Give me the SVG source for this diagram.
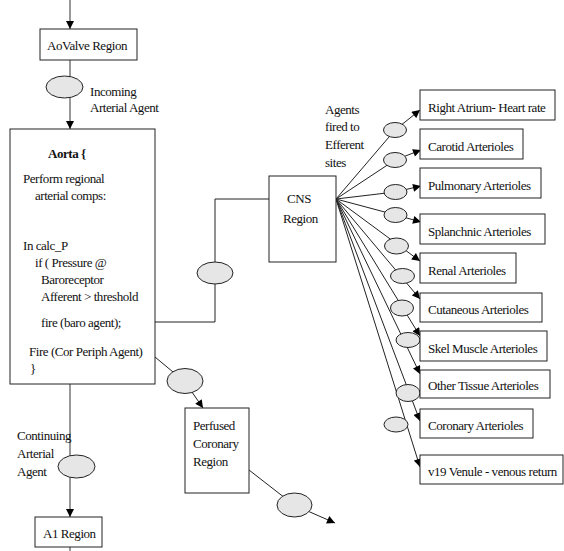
<svg xmlns="http://www.w3.org/2000/svg" width="564" height="551" viewBox="0 0 564 551">
  <style>
    text { font-family: "Liberation Serif", "Times New Roman", serif; font-size: 13px; letter-spacing: -0.45px; fill: #111; }
    .bold { font-weight: bold; }
    .box { fill: #fff; stroke: #222; stroke-width: 1; }
    .agent { fill: #e6e6e6; stroke: #222; stroke-width: 1; }
    .wire { fill: none; stroke: #222; stroke-width: 1; }
    .wire-grey { fill: none; stroke: #555; stroke-width: 1.2; }
  </style>
  <defs>
    <marker id="arrow" viewBox="0 0 10 10" refX="10" refY="5" markerUnits="userSpaceOnUse" markerWidth="9" markerHeight="8" orient="auto">
      <path d="M0,0 L10,5 L0,10 z" fill="#000"/>
    </marker>
  </defs>

  <!-- connectors -->
  <g id="connectors">
    <line class="wire-grey" x1="70" y1="0" x2="70" y2="29" marker-end="url(#arrow)"/>
    <line class="wire-grey" x1="70" y1="60" x2="70" y2="129" marker-end="url(#arrow)"/>
    <line class="wire-grey" x1="70" y1="377" x2="70" y2="517" marker-end="url(#arrow)"/>
    <line class="wire-grey" x1="70" y1="547" x2="70" y2="551"/>
    <polyline class="wire" points="150,322 215,322 215,199 283,199" marker-end="url(#arrow)"/>
    <polyline class="wire" points="149,352 185,382 203,408" marker-end="url(#arrow)"/>
    <polyline class="wire" points="240,463 294,505 335,523" marker-end="url(#arrow)"/>
    <!-- efferent fan from the CNS region -->
    <polyline class="wire" points="336,199 395,130 420,110" marker-end="url(#arrow)"/>
    <polyline class="wire" points="336,199 395,160 421,150" marker-end="url(#arrow)"/>
    <polyline class="wire" points="336,199 395,192 421,186" marker-end="url(#arrow)"/>
    <polyline class="wire" points="336,199 396,215 421,222" marker-end="url(#arrow)"/>
    <line class="wire" x1="336" y1="199" x2="420" y2="261" marker-end="url(#arrow)"/>
    <line class="wire" x1="336" y1="199" x2="420" y2="299" marker-end="url(#arrow)"/>
    <line class="wire" x1="336" y1="199" x2="420" y2="336" marker-end="url(#arrow)"/>
    <line class="wire" x1="336" y1="199" x2="420" y2="374" marker-end="url(#arrow)"/>
    <line class="wire" x1="336" y1="199" x2="420" y2="421" marker-end="url(#arrow)"/>
    <line class="wire" x1="336" y1="199" x2="420" y2="467" marker-end="url(#arrow)"/>
  </g>

  <!-- agent tokens -->
  <g id="agents">
    <ellipse class="agent" cx="64.5" cy="87" rx="18.5" ry="11"/>
    <ellipse class="agent" cx="215" cy="273" rx="18" ry="11"/>
    <ellipse class="agent" cx="185" cy="381" rx="18" ry="12.5"/>
    <ellipse class="agent" cx="76.5" cy="466.5" rx="18.5" ry="11.5"/>
    <ellipse class="agent" cx="294.5" cy="505" rx="17.5" ry="12"/>
    <ellipse class="agent" cx="395" cy="130" rx="11.5" ry="7.5"/>
    <ellipse class="agent" cx="395" cy="160" rx="11.5" ry="7.5"/>
    <ellipse class="agent" cx="395.5" cy="192" rx="11.5" ry="7.5"/>
    <ellipse class="agent" cx="395.5" cy="215" rx="11.5" ry="7.5"/>
    <ellipse class="agent" cx="396.5" cy="246" rx="12" ry="8"/>
    <ellipse class="agent" cx="402.5" cy="276" rx="12" ry="7.5"/>
    <ellipse class="agent" cx="402" cy="308" rx="11.5" ry="8"/>
    <ellipse class="agent" cx="408" cy="340" rx="12" ry="7.5"/>
    <ellipse class="agent" cx="408" cy="393" rx="12" ry="8.5"/>
    <ellipse class="agent" cx="396" cy="424.5" rx="12" ry="7.5"/>
  </g>

  <!-- left-hand labels -->
  <g id="label-incoming">
    <text x="90" y="96">Incoming</text>
    <text x="90" y="112">Arterial Agent</text>
  </g>
  <g id="label-continuing">
    <text x="17" y="440">Continuing</text>
    <text x="17" y="458">Arterial</text>
    <text x="17" y="476">Agent</text>
  </g>
  <g id="label-efferent">
    <text x="325" y="114">Agents</text>
    <text x="325" y="131">fired to</text>
    <text x="325" y="149">Efferent</text>
    <text x="325" y="167">sites</text>
  </g>

  <g id="aovalve">
    <rect class="box" x="40" y="29" width="97" height="31"/>
    <text x="47" y="50">AoValve Region</text>
  </g>

  <g id="aorta">
    <rect class="box" x="10" y="129" width="145" height="255"/>
    <text class="bold" x="48" y="158">Aorta {</text>
    <text x="23" y="183">Perform regional</text>
    <text x="35" y="200">arterial comps:</text>
    <text x="23" y="250">In calc_P</text>
    <text x="35" y="267">if ( Pressure @</text>
    <text x="41" y="284">Baroreceptor</text>
    <text x="41" y="301">Afferent &gt; threshold</text>
    <text x="41" y="327">fire (baro agent);</text>
    <text x="29" y="356">Fire (Cor Periph Agent)</text>
    <text x="30" y="373">}</text>
  </g>

  <g id="cns">
    <rect class="box" x="269" y="176" width="67" height="86"/>
    <text x="287" y="203">CNS</text>
    <text x="283" y="223">Region</text>
  </g>

  <g id="perfused-coronary">
    <rect class="box" x="185" y="408" width="64" height="85"/>
    <text x="193" y="430">Perfused</text>
    <text x="193" y="448">Coronary</text>
    <text x="193" y="466">Region</text>
  </g>

  <g id="a1">
    <rect class="box" x="35" y="517" width="67" height="30"/>
    <text x="43" y="538">A1 Region</text>
  </g>

  <g id="right-atrium">
    <rect class="box" x="420" y="90" width="135" height="30"/>
    <text x="428" y="112">Right Atrium- Heart rate</text>
  </g>
  <g id="carotid">
    <rect class="box" x="420" y="129" width="103" height="30"/>
    <text x="428" y="151">Carotid Arterioles</text>
  </g>
  <g id="pulmonary">
    <rect class="box" x="420" y="168" width="121" height="30"/>
    <text x="428" y="190">Pulmonary Arterioles</text>
  </g>
  <g id="splanchnic">
    <rect class="box" x="420" y="214" width="125" height="30"/>
    <text x="428" y="236">Splanchnic Arterioles</text>
  </g>
  <g id="renal">
    <rect class="box" x="420" y="253" width="96" height="30"/>
    <text x="428" y="275">Renal Arterioles</text>
  </g>
  <g id="cutaneous">
    <rect class="box" x="420" y="293" width="122" height="29"/>
    <text x="428" y="314">Cutaneous Arterioles</text>
  </g>
  <g id="skel-muscle">
    <rect class="box" x="420" y="331" width="127" height="30"/>
    <text x="428" y="353">Skel Muscle Arterioles</text>
  </g>
  <g id="other-tissue">
    <rect class="box" x="420" y="370" width="130" height="28"/>
    <text x="428" y="390">Other Tissue Arterioles</text>
  </g>
  <g id="coronary">
    <rect class="box" x="420" y="409" width="113" height="29"/>
    <text x="428" y="430">Coronary Arterioles</text>
  </g>
  <g id="v19">
    <rect class="box" x="420" y="455" width="143" height="29"/>
    <text x="428" y="476">v19 Venule - venous return</text>
  </g>
</svg>
